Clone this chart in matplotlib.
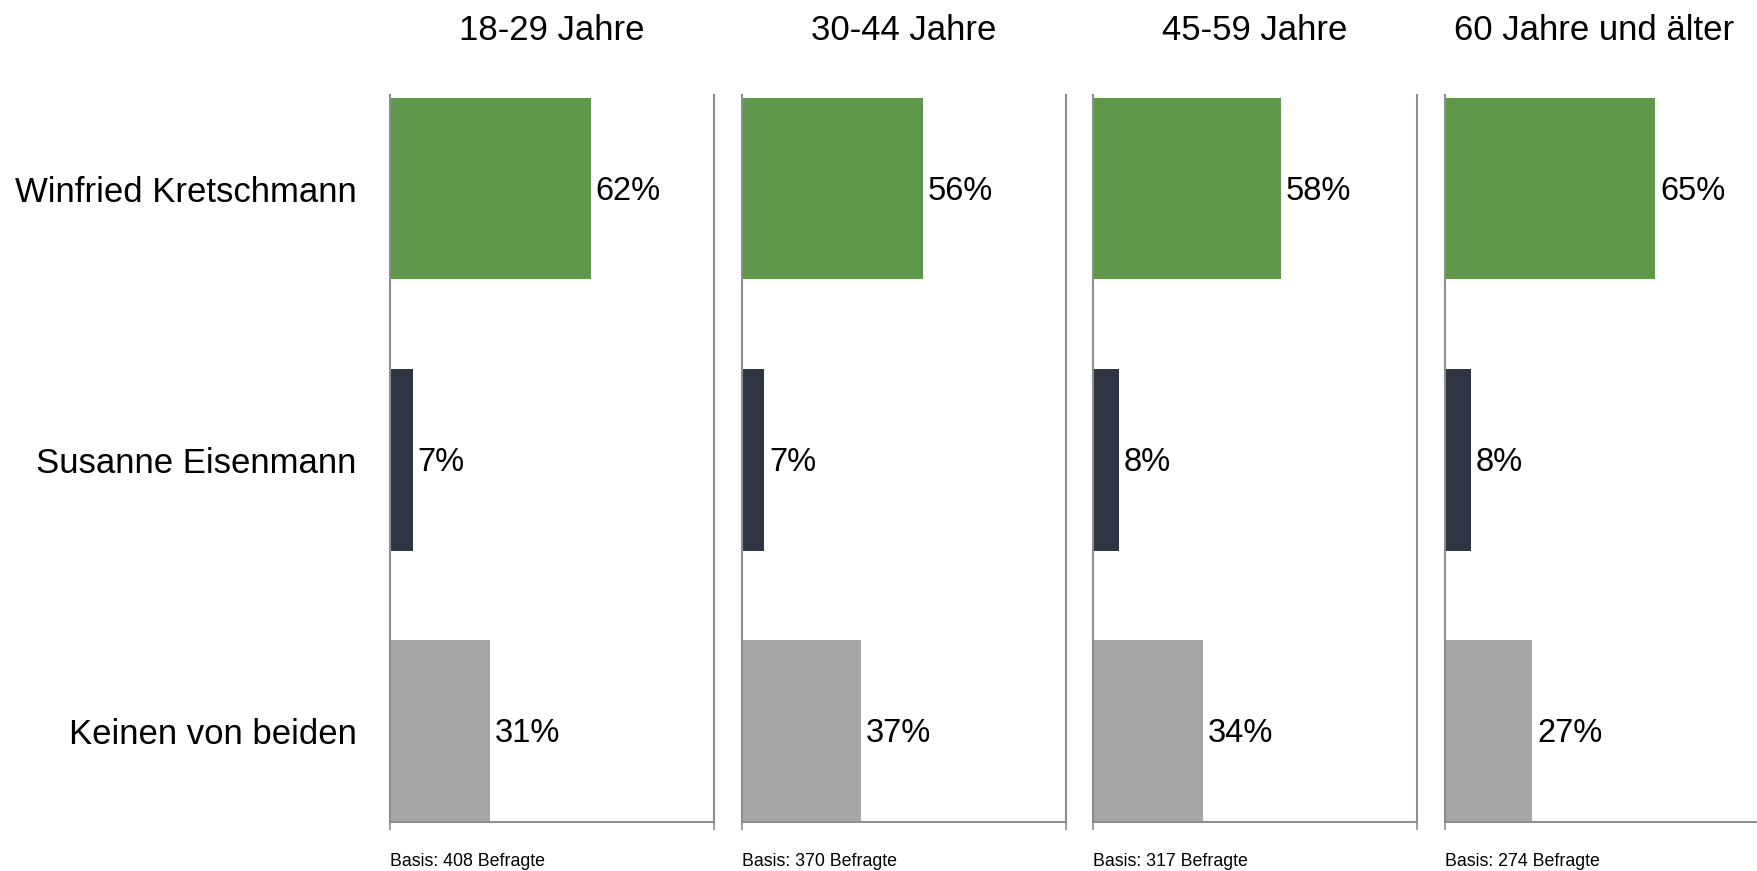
import matplotlib
matplotlib.use("Agg")
import matplotlib.pyplot as plt

plt.rcParams['font.family'] = ['Liberation Sans', 'DejaVu Sans']

categories = ["Winfried Kretschmann", "Susanne Eisenmann", "Keinen von beiden"]
groups = ["18-29 Jahre", "30-44 Jahre", "45-59 Jahre", "60 Jahre und älter"]
values = {
    "18-29 Jahre": [62, 7, 31],
    "30-44 Jahre": [56, 7, 37],
    "45-59 Jahre": [58, 8, 34],
    "60 Jahre und älter": [65, 8, 27],
}
basis = [408, 370, 317, 274]
colors = ["#5E974A", "#2F3542", "#A6A6A6"]
spine_color = "#8E8E8E"

fig = plt.figure(figsize=(17.58, 8.71), dpi=100)

left0 = 0.2218
step = 0.2
width = 0.1843
bottom = 0.0563
height = 0.8346
title_x = [0.5, 0.5, 0.5, 0.46]

for i, g in enumerate(groups):
    ax = fig.add_axes([left0 + i * step, bottom, width, height])
    vals = values[g]
    y = list(range(len(categories)))
    ax.barh(y, vals, height=0.67, color=colors)
    ax.set_xlim(0, 100)
    ax.set_ylim(2.335, -0.345)
    for yy, v in zip(y, vals):
        ax.text(v + 1.5, yy + 0.01, f"{v}%", va="center", ha="left", fontsize=23.5, color="black")
    ax.spines["top"].set_visible(False)
    for s in ["left", "right", "bottom"]:
        ax.spines[s].set_color(spine_color)
        ax.spines[s].set_linewidth(1.5)
    ax.set_xticks([0, 100])
    ax.set_xticklabels([])
    ax.tick_params(axis="x", length=6, width=1.2, color=spine_color, direction="out")
    if i == 0:
        ax.set_yticks(y)
        ax.set_yticklabels(categories, fontsize=25)
        ax.tick_params(axis="y", length=0, pad=24)
    else:
        ax.set_yticks([])
    ax.text(title_x[i], 1.0 + (0.9655 - (bottom + height)) / height, g,
            transform=ax.transAxes, ha="center", va="center", fontsize=25)
    ax.text(0, -0.054, f"Basis: {basis[i]} Befragte", transform=ax.transAxes,
            ha="left", va="center", fontsize=12.8)

fig.savefig("out.png", dpi=100)
